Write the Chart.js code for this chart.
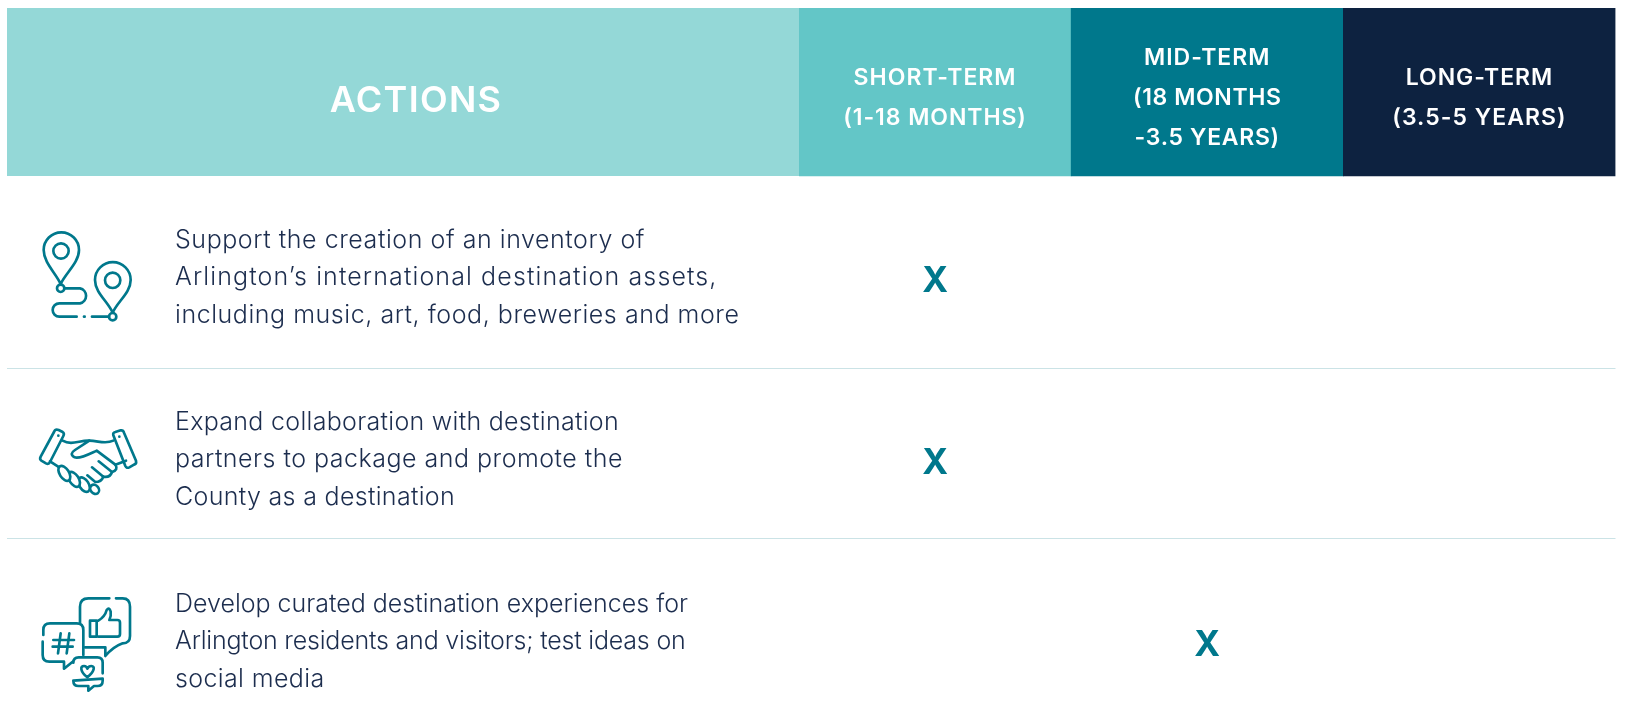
<!DOCTYPE html>
<html><head><meta charset="utf-8">
<style>html,body{margin:0;padding:0;background:#fff}canvas{display:block}</style>
<script src="https://cdn.jsdelivr.net/npm/chart.js@4"></script>
</head><body><canvas id="c" width="1627" height="725"></canvas>
<script>
const actionsHeader = "ACTIONS";
const termKeys = ["Short-term","Mid-term","Long-term"];
const termLines = [["SHORT-TERM","(1-18 MONTHS)"],["MID-TERM","(18 MONTHS","-3.5 YEARS)"],["LONG-TERM","(3.5-5 YEARS)"]];
const termColors = ["#63C6C7","#00788C","#0D2240"];
const actions = [
 ["Support the creation of an inventory of","Arlington’s international destination assets,","including music, art, food, breweries and more"],
 ["Expand collaboration with destination","partners to package and promote the","County as a destination"],
 ["Develop curated destination experiences for","Arlington residents and visitors; test ideas on","social media"]
];
const markLabel = "X";
const markedTerm = ["Short-term","Short-term","Mid-term"];
// rendered width of each text line (the original typeface is wider than the installed ones)
const lineFit = [[470,542.5,564.5],[444,448,280],[513,510.5,149.5]];
const termFit = [[163,183.6],[126.6,148.4,145.3],[147.3,174.3]];

const FONT = "Inter, 'Open Sans', sans-serif";
const INK = "#1C2D4E", TEAL = "#00788C";
const Y0 = 277.8, UNIT = 182, LINE = 37.4, HEAD_MID = 98, HEAD_LINE = 40;
const toVal = p => (p - Y0) / UNIT;

function stroke(ctx, d, w){ ctx.lineWidth = w; ctx.stroke(new Path2D(d)); }
function pill(ctx, x, y, rx, ry, rot){
  ctx.beginPath(); ctx.ellipse(x,y,rx,ry,rot,0,Math.PI*2);
  ctx.fillStyle="#fff"; ctx.fill(); ctx.lineWidth=8; ctx.stroke();
}
function fitted(c, t, x, y, width){
  c.letterSpacing = "0px";
  const gap = (width - c.measureText(t).width) / t.length;
  c.letterSpacing = gap.toFixed(3) + "px";
  c.fillText(t, x, y);
}
function icons(ctx){
  ctx.save();
  ctx.strokeStyle = TEAL; ctx.lineCap = "round"; ctx.lineJoin = "round";
  const W = 8;
  ctx.save(); ctx.translate(30,220); ctx.scale(1/3,1/3);
  stroke(ctx,"M92 192 C78 160 41 128 41 90 A53 53 0 1 1 147 90 C147 128 106 160 92 192Z",W);
  stroke(ctx,"M116 93 A23 23 0 1 1 70 93 A23 23 0 1 1 116 93Z",W);
  stroke(ctx,"M103 205 A11 11 0 1 1 81 205 A11 11 0 1 1 103 205Z",W);
  stroke(ctx,"M248 278 C234 245 195 218 195 180 A53 53 0 1 1 302 180 C302 218 262 245 248 278Z",W);
  stroke(ctx,"M271 181 A23 23 0 1 1 225 181 A23 23 0 1 1 271 181Z",W);
  stroke(ctx,"M259 290 A11 11 0 1 1 237 290 A11 11 0 1 1 259 290Z",W);
  stroke(ctx,"M103 205 H150 A23 23 0 0 1 150 250 H88 A20 20 0 0 0 88 290 H140",W);
  stroke(ctx,"M162 290 H164",W);
  stroke(ctx,"M186 290 H237",W);
  ctx.restore();
  ctx.save(); ctx.translate(30,420); ctx.scale(1/3,1/3);
  stroke(ctx,"M72 36 Q76 26 86 30 L98 36 Q104 40 100 48 L60 126 Q56 134 48 130 L34 122 Q28 118 32 110Z",W);
  stroke(ctx,"M250 46 Q248 38 256 36 L272 31 Q280 30 282 38 L318 122 Q320 132 312 134 L298 142 Q290 146 286 138Z",W);
  stroke(ctx,"M85 47 h.1 M268 50 h.1",8);
  stroke(ctx,"M98 62 C125 78 150 60 178 62 L135 90 Q116 102 134 112 C150 118 182 100 200 92 L256 134",W);
  stroke(ctx,"M178 62 C205 62 225 74 250 62",W);
  stroke(ctx,"M288 122 L256 134 Q266 150 246 156 L206 124",W);
  stroke(ctx,"M246 156 Q240 174 220 170 L186 142",W);
  stroke(ctx,"M220 170 Q214 186 196 186 L172 166",W);
  stroke(ctx,"M60 124 L88 142",W);
  pill(ctx,194,208,15,12,0.9);
  pill(ctx,162,194,24,14,1.0);
  pill(ctx,132,178,25,14,1.0);
  pill(ctx,103,160,25,14,1.0);
  ctx.restore();
  ctx.save(); ctx.translate(30,590); ctx.scale(1/3,1/3);
  stroke(ctx,"M150 100 V50 Q150 25 175 25 H238 M258 25 H278 Q300 25 300 50 V138 Q300 160 278 160 Q250 170 226 198 V172 H165",W);
  stroke(ctx,"M40 135 V120 Q40 100 60 100 H140 Q160 100 160 120 V195 M38 155 V195 Q38 215 58 215 H102 V236 L128 215",W);
  stroke(ctx,"M130 218 Q130 202 146 202 H202 Q218 202 218 218 V250 M218 266 V272 Q218 288 202 288 H192 L175 302 V288 H146 Q130 288 130 272Z",W);
  stroke(ctx,"M180 92 H200 V140 H180Z",W);
  stroke(ctx,"M205 92 Q225 80 230 60 Q238 50 242 65 Q244 78 238 90 H262 Q270 90 270 98 V132 Q270 140 262 140 H205",W);
  stroke(ctx,"M92 130 L84 190 M118 130 L110 190 M70 150 H132 M68 170 H128",W);
  stroke(ctx,"M172 262 C150 244 150 228 162 228 Q170 228 172 236 Q176 228 184 228 C196 228 194 244 172 262Z",W);
  ctx.restore();
  ctx.restore();
}

const tablePlugin = {
  id:"table",
  beforeDraw(chart){
    const c = chart.ctx, a = chart.chartArea;
    c.save();
    c.fillStyle = "#fff"; c.fillRect(0,0,chart.width,chart.height);
    c.fillStyle = "#94D8D7"; c.fillRect(7,8,a.left-7,168);
    c.fillStyle = "#CBE3E6";
    c.fillRect(7,368,a.right-7,1); c.fillRect(7,538,a.right-7,1);
    c.restore();
  },
  afterDraw(chart){
    const c = chart.ctx, xS = chart.scales.x, yS = chart.scales.y;
    c.save();
    c.textBaseline = "middle"; c.textAlign = "left";
    c.fillStyle = INK; c.font = `300 25px ${FONT}`;
    actions.forEach((lines,i)=>{
      const mid = yS.getPixelForValue(i);
      lines.forEach((t,j)=> fitted(c, t, 175, mid + (j - (lines.length-1)/2) * LINE, lineFit[i][j]));
    });
    c.textAlign = "center";
    c.fillStyle = "#fff"; c.font = `600 23px ${FONT}`;
    termLines.forEach((lines,i)=>{
      const x = xS.getPixelForTick(i);
      lines.forEach((t,j)=> fitted(c, t, x, HEAD_MID + (j - (lines.length-1)/2) * HEAD_LINE, termFit[i][j]));
    });
    c.letterSpacing = "1.3px";
    c.font = `600 36px ${FONT}`;
    c.fillText(actionsHeader, 416, 101);
    c.letterSpacing = "0px";
    c.fillStyle = TEAL; c.font = `700 35px ${FONT}`;
    chart.getDatasetMeta(1).data.forEach(pt => c.fillText(markLabel, pt.x, pt.y + 3.5));
    c.restore();
    icons(c);
  }
};

new Chart(document.getElementById("c"),{
  type:"bar",
  data:{
    labels:termKeys,
    datasets:[
      {type:"bar",data:termKeys.map(()=>[toVal(8),toVal(176)]),backgroundColor:termColors,barPercentage:1,categoryPercentage:1,borderWidth:0},
      {type:"scatter",data:markedTerm.map((t,i)=>({x:t,y:i})),pointRadius:0,showLine:false}
    ]
  },
  options:{
    responsive:false,animation:false,
    layout:{padding:{left:175,right:11.5,top:8,bottom:0}},
    plugins:{legend:{display:false},tooltip:{enabled:false},title:{display:false}},
    scales:{
      x:{type:"category",position:"top",offset:true,
         grid:{display:false},border:{display:false},
         afterFit(s){s.height=0;s.paddingLeft=0;s.paddingRight=0;},
         ticks:{display:false,autoSkip:false}},
      y:{type:"linear",reverse:true,min:toVal(8),max:toVal(725),position:"left",
         grid:{display:false},border:{display:false},
         afterBuildTicks(s){s.ticks=actions.map((_,i)=>({value:i}));},
         afterFit(s){s.width=624;s.paddingTop=0;s.paddingBottom=0;},
         ticks:{display:false}}
    }
  },
  plugins:[tablePlugin]
});
</script></body></html>
